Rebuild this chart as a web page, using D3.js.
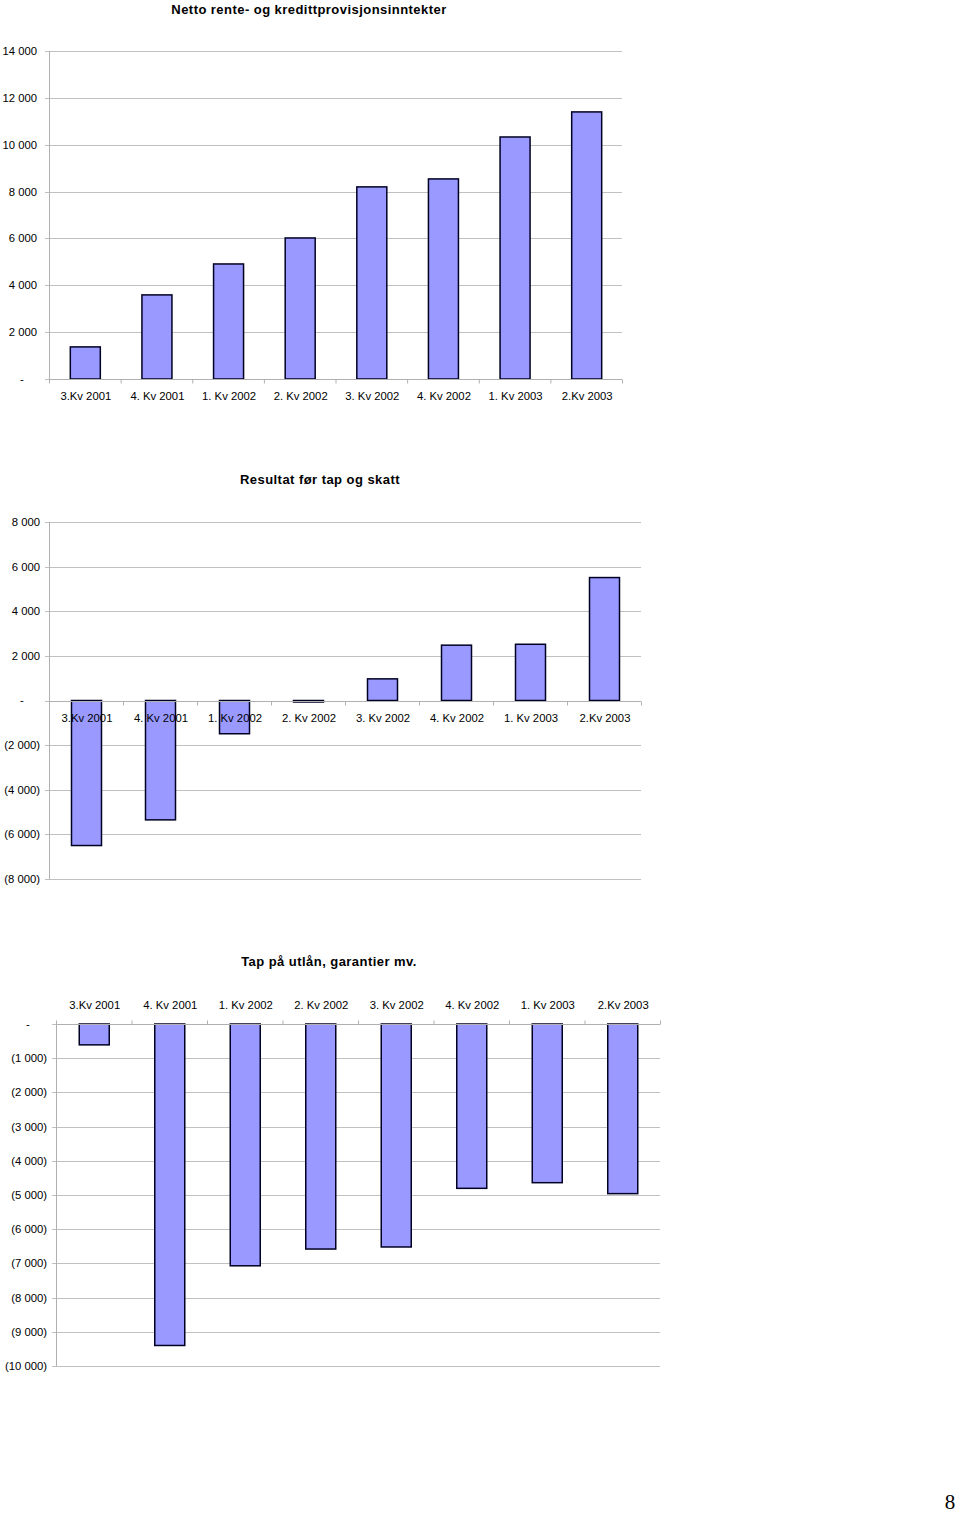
<!DOCTYPE html>
<html><head><meta charset="utf-8">
<script src="https://cdn.jsdelivr.net/npm/d3@7"></script>
<style>body{margin:0;background:#fff}svg{display:block}</style>
</head><body>
<script>
const categories = ["3.Kv 2001","4. Kv 2001","1. Kv 2002","2. Kv 2002","3. Kv 2002","4. Kv 2002","1. Kv 2003","2.Kv 2003"];
const nettoValues = [1370, 3590, 4910, 6020, 8200, 8540, 10330, 11400];
const resultatValues = [-6500, -5350, -1490, -50, 970, 2480, 2520, 5510];
const tapValues = [-610, -9400, -7070, -6580, -6520, -4805, -4640, -4960];
const nettoTicks = [0, 2000, 4000, 6000, 8000, 10000, 12000, 14000];
const resultatTicks = [-8000, -6000, -4000, -2000, 0, 2000, 4000, 6000, 8000];
const tapTicks = [0, -1000, -2000, -3000, -4000, -5000, -6000, -7000, -8000, -9000, -10000];
const titles = ["Netto rente- og kredittprovisjonsinntekter", "Resultat før tap og skatt", "Tap på utlån, garantier mv."];

const W = 960, H = 1515;
const svg = d3.select("body").append("svg").attr("width", W).attr("height", H);
const font = "Liberation Sans, Arial, sans-serif";

const fmtNum = d3.format(",");
function fmt(v){
  if (v === 0) return "-";
  const s = fmtNum(Math.abs(v)).replace(/,/g, " ");
  return v < 0 ? "(" + s + ")" : s;
}

function chart(o){
  const g = svg.append("g");
  const x = d3.scaleBand().domain(categories).range([o.x0, o.x1]).paddingInner(0).paddingOuter(0);
  const y = d3.scaleLinear().domain(o.domain).range([o.yBottom, o.yTop]);
  g.append("text").attr("x", o.titleX).attr("y", o.titleY).attr("text-anchor","middle")
    .attr("font-family", font).attr("font-weight","bold").attr("font-size", 13)
    .attr("letter-spacing", 0.45).attr("fill","#000").text(o.title);
  g.selectAll(".grid").data(o.ticks).join("line")
    .attr("x1", o.x0 - 4).attr("x2", o.x1)
    .attr("y1", d => Math.round(y(d)) + 0.5).attr("y2", d => Math.round(y(d)) + 0.5)
    .attr("stroke", "#c0c0c0").attr("stroke-width", 1);
  g.append("line").attr("x1", o.x0 + 0.5).attr("x2", o.x0 + 0.5)
    .attr("y1", y(o.domain[0])).attr("y2", y(o.domain[1]))
    .attr("stroke", "#b0b0b0");
  g.selectAll(".yl").data(o.ticks).join("text")
    .attr("x", d => d === 0 ? o.dashX : o.labelRight)
    .attr("y", d => y(d)).attr("dy", "0.35em")
    .attr("text-anchor", d => d === 0 ? "middle" : "end")
    .attr("font-family", font).attr("font-size", 11.3).attr("fill", "#000")
    .text(fmt);
  g.selectAll(".bar").data(o.values).join("rect")
    .attr("x", (d,i) => x(categories[i]) + x.bandwidth()/2 - 14.5)
    .attr("width", 30)
    .attr("y", d => y(Math.max(0, d)))
    .attr("height", d => Math.max(1.5, Math.abs(y(d) - y(0))))
    .attr("fill", "#9999ff").attr("stroke", "#000022").attr("stroke-width", 1.5);
  const y0 = Math.round(y(0)) + 0.5;
  g.append("line").attr("x1", o.x0).attr("x2", o.x1).attr("y1", y0).attr("y2", y0).attr("stroke", "#b0b0b0");
  const bounds = categories.map(c => x(c)).concat([o.x1]);
  g.selectAll(".xt").data(bounds).join("line")
    .attr("x1", d => d + 0.5).attr("x2", d => d + 0.5)
    .attr("y1", y0).attr("y2", y0 + o.tickDir * 4).attr("stroke", "#b0b0b0");
  g.selectAll(".xl").data(categories).join("text")
    .attr("x", d => x(d) + x.bandwidth()/2 + 1)
    .attr("y", o.catY).attr("dy", "0.35em").attr("text-anchor","middle")
    .attr("font-family", font).attr("font-size", 11.3).attr("fill", "#000")
    .text(d => d);
}

chart({title: titles[0], titleX: 309, titleY: 14, values: nettoValues, ticks: nettoTicks,
  domain: [0, 14000], yBottom: 379, yTop: 51, x0: 49, x1: 622, labelRight: 37, dashX: 22,
  catY: 396, tickDir: 1});
chart({title: titles[1], titleX: 320, titleY: 484, values: resultatValues, ticks: resultatTicks,
  domain: [-8000, 8000], yBottom: 879, yTop: 522, x0: 49, x1: 641, labelRight: 40, dashX: 22,
  catY: 718, tickDir: 1});
chart({title: titles[2], titleX: 329, titleY: 966, values: tapValues, ticks: tapTicks,
  domain: [-10000, 0], yBottom: 1366, yTop: 1024, x0: 56, x1: 660, labelRight: 47, dashX: 28,
  catY: 1005, tickDir: -1});

svg.append("text").attr("x", 950).attr("y", 1509).attr("text-anchor","middle")
  .attr("font-family","Liberation Serif, Times New Roman, serif").attr("font-size", 21).text("8");
</script>
</body></html>
